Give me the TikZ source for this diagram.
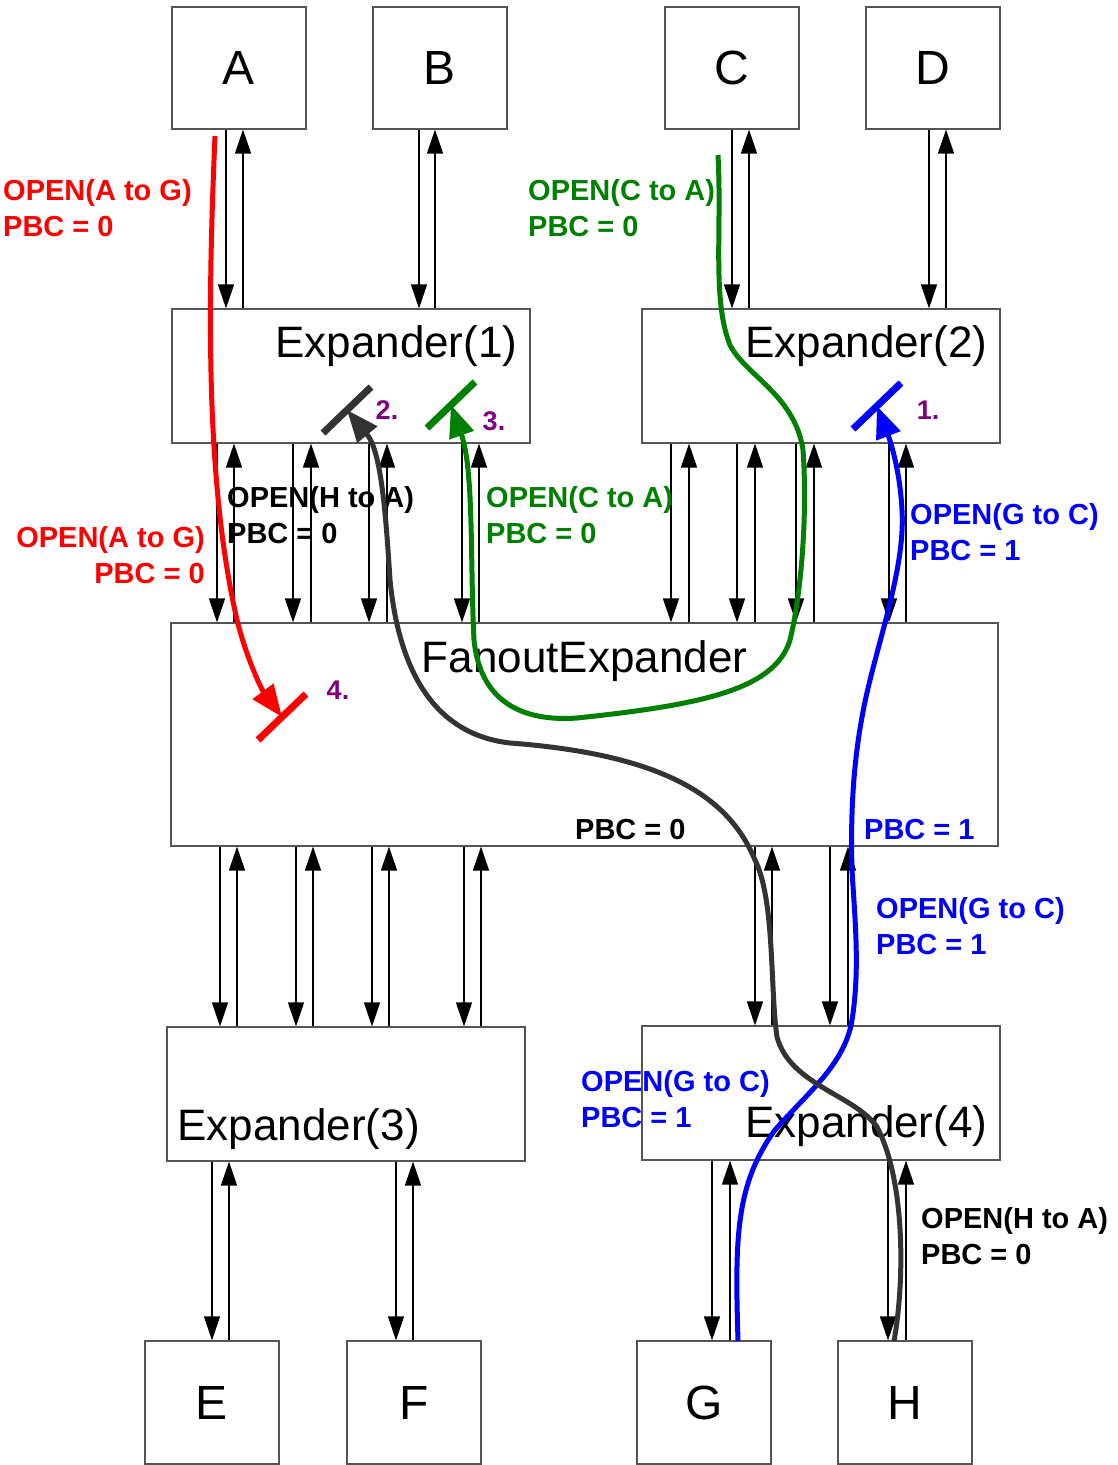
\documentclass[tikz,border=0pt]{standalone}
\usepackage{fontspec}
\setmainfont{Liberation Sans}
\usetikzlibrary{arrows.meta}
\definecolor{PathRed}{HTML}{FF0000}
\definecolor{PathGreen}{HTML}{008000}
\definecolor{PathBlue}{HTML}{0000FF}
\definecolor{PathGray}{HTML}{333333}
\definecolor{StepPurple}{HTML}{800080}
\definecolor{BoxEdge}{HTML}{555555}

\begin{document}
\begin{tikzpicture}[x=1pt,y=-1pt,
    box/.style={draw=BoxEdge,line width=1.2pt,inner sep=0pt,minimum width=134pt,minimum height=122pt,font=\fontsize{48}{48}\selectfont},
    expbox/.style={draw=BoxEdge,line width=1.2pt,inner sep=0pt,minimum width=358pt,minimum height=134pt},
    expname/.style={inner sep=0pt,font=\fontsize{44}{44}\selectfont},
    downlink/.style={line width=1.4pt,-{Triangle[length=24pt,width=16pt]}},
    route/.style={line width=5pt,-{Triangle[length=32pt,width=25pt]}},
    stopbar/.style={line width=7pt},
    note/.style={inner sep=0pt,align=left,anchor=north west,font=\bfseries\fontsize{29}{36}\selectfont},
    stepno/.style={inner sep=0pt,text=StepPurple,font=\bfseries\fontsize{27}{27}\selectfont}]
    \useasboundingbox (0,0) rectangle (1118,1465);
    \foreach \n/\x in {A/239,B/440,C/732,D/933}
      \node[box] (\n) at (\x,68) {\n};
    \foreach \n/\x in {E/212,F/414,G/704,H/905}
      \node[box,minimum height=123pt] (\n) at (\x,1402.5) {\n};
    \node[expbox] (Ex1) at (351,376) {};
    \node[expbox] (Ex2) at (821,376) {};
    \node[expbox,minimum width=827pt,minimum height=223pt] (Fan) at (584.5,734.5) {};
    \node[expbox] (Ex3) at (346,1094) {};
    \node[expbox] (Ex4) at (821,1093) {};
    \node[expname,anchor=base east] (Ex1name) at ([xshift=-13pt,yshift=-49pt]Ex1.north east) {Expander(1)};
    \node[expname,anchor=base east] (Ex2name) at ([xshift=-13pt,yshift=-49pt]Ex2.north east) {Expander(2)};
    \node[expname,anchor=base] (Fanname) at ([yshift=-50pt]Fan.north) {FanoutExpander};
    \node[expname,anchor=base west] (Ex3name) at ([xshift=11pt,yshift=21pt]Ex3.south west) {Expander(3)};
    \node[expname,anchor=base east] (Ex4name) at ([xshift=-13pt,yshift=23pt]Ex4.south east) {Expander(4)};
    \foreach \t/\b/\x/\u in {A/Ex1/226/243,B/Ex1/419/435,C/Ex2/732/749,D/Ex2/929/946,
        Ex1/Fan/217/234,Ex1/Fan/293/311,Ex1/Fan/369/387,Ex1/Fan/462/479,
        Ex2/Fan/671/689,Ex2/Fan/737/755,Ex2/Fan/796/814,Ex2/Fan/889/906,
        Fan/Ex3/220/237,Fan/Ex3/296/313,Fan/Ex3/372/389,Fan/Ex3/464/481,
        Fan/Ex4/755/772,Fan/Ex4/830/848,
        Ex3/E/212/229,Ex3/F/396/413,Ex4/G/712/730,Ex4/H/888/906} {
      \coordinate (dn) at (\x,0);
      \coordinate (up) at (\u,0);
      \draw[downlink] (\t.south -| dn) -- (\b.north -| dn);
      \draw[downlink] (\b.north -| up) -- (\t.south -| up);
    }
    \node[note,text=PathRed] (openAG) at (3,179) {OPEN(A to G)\\PBC = 0};
    \node[note,text=PathGreen] (openCA) at (528,179) {OPEN(C to A)\\PBC = 0};
    \node[note] (openHA) at (227,486) {OPEN(H to A)\\PBC = 0};
    \node[note,text=PathRed,align=right,anchor=north east] (openAGfan) at (205,526) {OPEN(A to G)\\PBC = 0};
    \node[note,text=PathGreen] (openCAfan) at (486,486) {OPEN(C to A)\\PBC = 0};
    \node[note,text=PathBlue] (openGCex2) at (910,503) {OPEN(G to C)\\PBC = 1};
    \node[note] (fanPbcA) at (575,819) {PBC = 0};
    \node[note,text=PathBlue] (fanPbcB) at (864,819) {PBC = 1};
    \node[note,text=PathBlue] (openGCfan) at (876,897) {OPEN(G to C)\\PBC = 1};
    \node[note,text=PathBlue] (openGCex4) at (581,1070) {OPEN(G to C)\\PBC = 1};
    \node[note] (openHAex4) at (921,1207) {OPEN(H to A)\\PBC = 0};
    \coordinate (redStart) at (215,136);
    \coordinate (greenStart) at (718,155);
    \coordinate (blueStart) at (738,1341);
    \coordinate (grayStart) at (894,1341);
    \coordinate (stopRed) at (282,717);
    \coordinate (stopGray) at (347,410);
    \coordinate (stopGreen) at (451,405);
    \coordinate (stopBlue) at (877,406);
    \draw[route,PathRed] (redStart) .. controls (208,300) and (205,480) .. (237,620)
      .. controls (247,660) and (262,690) .. (stopRed);
    \draw[route,PathGreen] (greenStart) .. controls (722,230) and (712,300) .. (730,345)
      .. controls (745,375) and (795,395) .. (803,450)
      .. controls (808,520) and (800,600) .. (790,640)
      .. controls (775,690) and (700,705) .. (577,718)
      .. controls (520,722) and (480,700) .. (474,640)
      .. controls (470,560) and (474,470) .. (stopGreen);
    \draw[route,PathBlue] (blueStart) .. controls (735,1240) and (735,1185) .. (775,1130)
      .. controls (805,1095) and (845,1065) .. (852,1020)
      .. controls (860,970) and (855,920) .. (852,870)
      .. controls (850,800) and (855,740) .. (870,680)
      .. controls (885,620) and (905,560) .. (902,510)
      .. controls (900,470) and (890,440) .. (stopBlue);
    \draw[route,PathGray] (grayStart) .. controls (905,1280) and (905,1180) .. (877,1127)
      .. controls (855,1095) and (790,1085) .. (777,1037)
      .. controls (770,990) and (775,900) .. (755,860)
      .. controls (730,800) and (670,755) .. (510,743)
      .. controls (440,735) and (400,680) .. (390,580)
      .. controls (385,500) and (380,450) .. (stopGray);
    \foreach \s/\c in {stopRed/PathRed,stopGray/PathGray,stopGreen/PathGreen,stopBlue/PathBlue}
      \draw[stopbar,\c] ([shift={(-24,23)}]\s) -- ([shift={(24,-23)}]\s);
    \node[stepno] (stepA) at (928,410) {1.};
    \node[stepno] (stepB) at (387,410) {2.};
    \node[stepno] (stepC) at (494,421) {3.};
    \node[stepno] (stepD) at (338,690) {4.};
  \end{tikzpicture}
\end{document}
